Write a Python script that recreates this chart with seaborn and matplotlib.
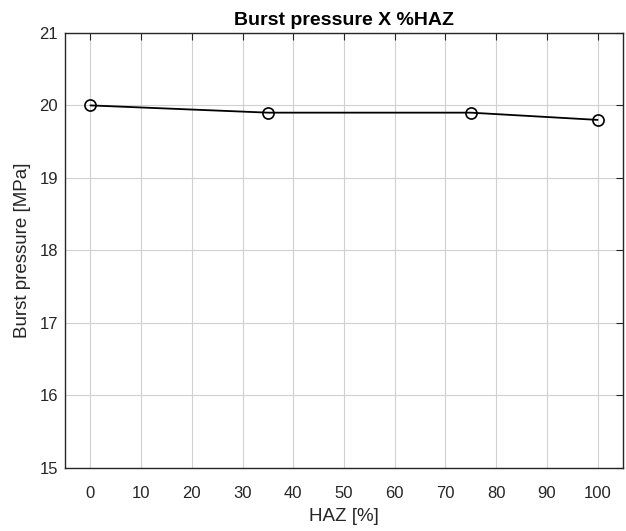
import matplotlib
matplotlib.use("Agg")
import matplotlib.pyplot as plt
import seaborn as sns
import pandas as pd

# Data
haz = [0, 35, 75, 100]
burst_pressure = [20.0, 19.9, 19.9, 19.8]
x_ticks = list(range(0, 101, 10))
y_ticks = [15, 16, 17, 18, 19, 20, 21]

df = pd.DataFrame({"HAZ": haz, "Burst": burst_pressure})

sns.set_theme(style="white")
plt.rcParams['font.family'] = ['Liberation Sans', 'DejaVu Sans']

fig = plt.figure(figsize=(6.26, 5.31), dpi=100)
ax = fig.add_axes([0.104, 0.119, 0.891, 0.819])

sns.lineplot(data=df, x="HAZ", y="Burst", ax=ax, color='black', linewidth=1.3,
             marker='o', markersize=8, markerfacecolor='none',
             markeredgecolor='black', markeredgewidth=1.2)

ax.set_xlim(-5, 105)
ax.set_ylim(15, 21)
ax.set_xticks(x_ticks)
ax.set_yticks(y_ticks)
ax.grid(True, color='#d0d0d0', linewidth=0.8)
ax.tick_params(direction='in', length=5, width=0.8, color='#262626',
               top=True, right=True, labelsize=12, labelcolor='#262626')
ax.tick_params(axis='x', pad=13)
ax.tick_params(axis='y', pad=5)
for s in ax.spines.values():
    s.set_color('#262626')
    s.set_linewidth(1.0)

ax.set_xlabel("HAZ [%]", fontsize=13.5, color='#262626', labelpad=5)
ax.set_ylabel("Burst pressure [MPa]", fontsize=13.5, color='#262626', labelpad=6)
ax.set_title("Burst pressure X %HAZ", fontsize=14, fontweight='bold', color='black', pad=6)

fig.savefig("out.png", dpi=100)
